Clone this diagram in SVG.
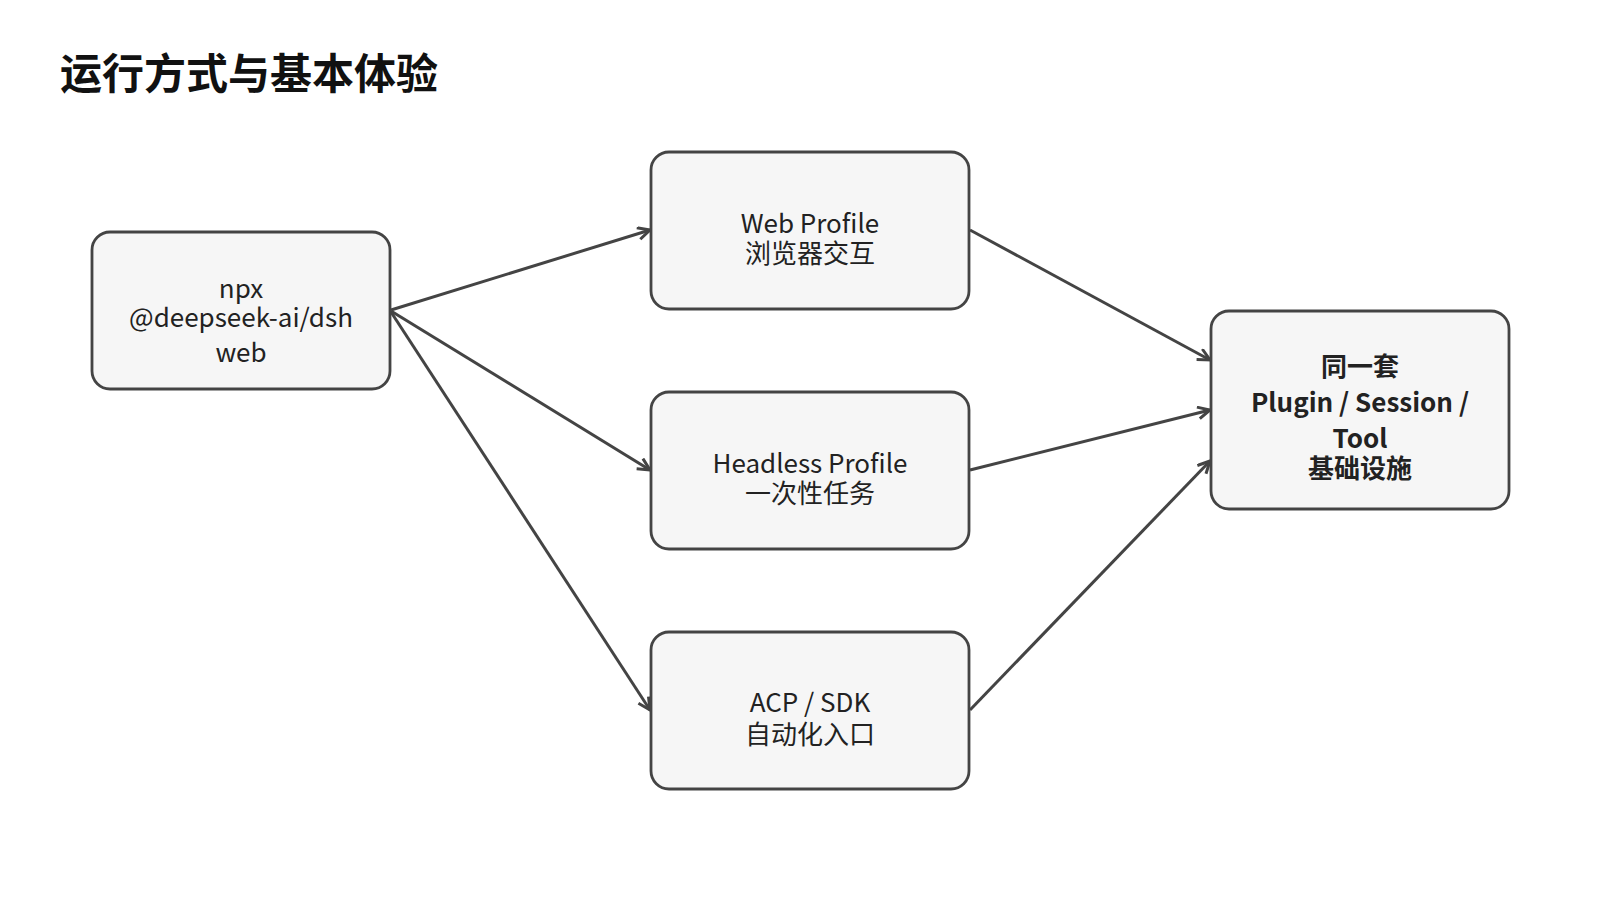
<svg xmlns="http://www.w3.org/2000/svg" width="1600" height="900" viewBox="0 0 1600 900">
<style>
.node rect{fill:#f6f6f6;stroke:#444;stroke-width:2.8}
.t{font-family:"Noto Sans CJK SC","Noto Sans",sans-serif;font-size:26px;fill:#222;text-anchor:middle}
.b{font-weight:bold}
.edge{stroke:#444;stroke-width:3;fill:none;marker-end:url(#arr)}
.title{font-family:"Noto Sans CJK SC","Noto Sans",sans-serif;font-size:42px;font-weight:bold;fill:#111}
</style>
<defs>
<marker id="arr" markerUnits="userSpaceOnUse" markerWidth="16" markerHeight="16" refX="13" refY="7" orient="auto">
<path d="M1,1 L13,7 L1,13" fill="none" stroke="#444" stroke-width="3"/>
</marker>
</defs>
<rect width="1600" height="900" fill="#fff"/>
<text class="title" x="60" y="89">运行方式与基本体验</text>
<g id="edges">
<line class="edge" x1="391" y1="310" x2="650" y2="230"/>
<line class="edge" x1="391" y1="311" x2="650" y2="470"/>
<line class="edge" x1="391" y1="312" x2="650" y2="710"/>
<line class="edge" x1="970" y1="230" x2="1210" y2="360"/>
<line class="edge" x1="970" y1="470" x2="1210" y2="410"/>
<line class="edge" x1="970" y1="710" x2="1210" y2="461"/>
</g>
<g id="n_npx" class="node">
<rect x="92" y="232" width="298" height="157" rx="18"/>
<text class="t" x="241" y="298">npx</text>
<text class="t" x="241" y="327">@deepseek-ai/dsh</text>
<text class="t" x="241" y="362">web</text>
</g>
<g id="n_web" class="node">
<rect x="651" y="152" width="318" height="157" rx="18"/>
<text class="t" x="810" y="233">Web Profile</text>
<text class="t" x="810" y="263">浏览器交互</text>
</g>
<g id="n_headless" class="node">
<rect x="651" y="392" width="318" height="157" rx="18"/>
<text class="t" x="810" y="473">Headless Profile</text>
<text class="t" x="810" y="503">一次性任务</text>
</g>
<g id="n_acp" class="node">
<rect x="651" y="632" width="318" height="157" rx="18"/>
<text class="t" x="810" y="712">ACP / SDK</text>
<text class="t" x="810" y="744">自动化入口</text>
</g>
<g id="n_infra" class="node">
<rect x="1211" y="311" width="298" height="198" rx="18"/>
<text class="t b" x="1360" y="376">同一套</text>
<text class="t b" x="1360" y="412">Plugin / Session /</text>
<text class="t b" x="1360" y="448">Tool</text>
<text class="t b" x="1360" y="478">基础设施</text>
</g>
</svg>
